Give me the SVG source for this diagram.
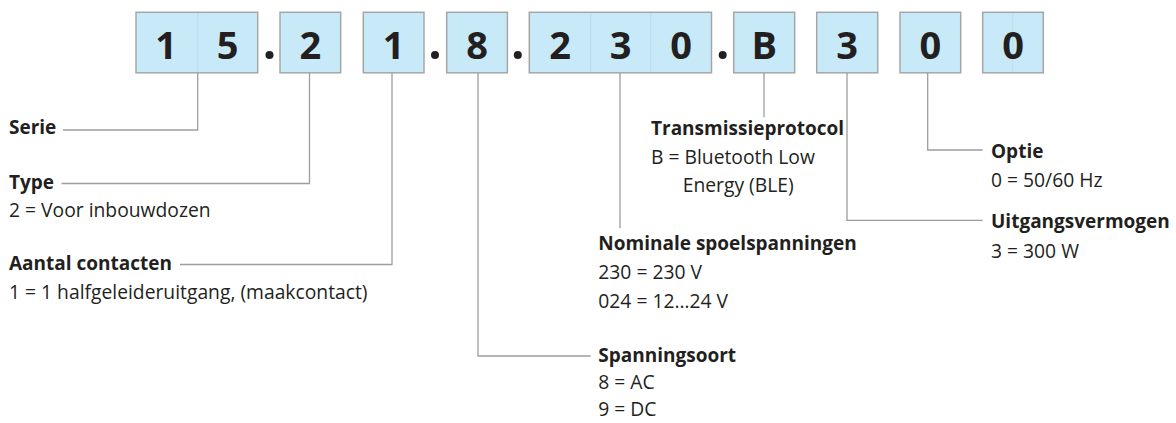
<svg xmlns="http://www.w3.org/2000/svg" width="1176" height="423" viewBox="0 0 1176 423">
<style>
.box{fill:#c7e9f8;stroke:#a6a6a6;stroke-width:1.5}
.div{stroke:#bdd6e2;stroke-width:0.7}
.dig{font-family:"Open Sans","Liberation Sans",sans-serif;font-weight:700;font-size:38px;fill:#231f20;text-anchor:middle}
.dot{fill:#231f20}
.con{fill:none;stroke:#9d9d9d;stroke-width:1.3}
.h{font-family:"Open Sans","Liberation Sans",sans-serif;font-weight:700;font-size:19px;fill:#231f20}
.t{font-family:"Open Sans","Liberation Sans",sans-serif;font-size:19.3px;fill:#231f20}
</style>
<rect width="1176" height="423" fill="#ffffff"/>
<g id="code">
<g id="box-15">
<rect class="box" x="136" y="12.3" width="121.7" height="60.5"/>
<line class="div" x1="197.7" y1="13" x2="197.7" y2="72"/>
<text class="dig" x="166" y="59">1</text>
<text class="dig" x="227.5" y="59">5</text>
</g>
<circle class="dot" cx="269.5" cy="55" r="4"/>
<g id="box-2">
<rect class="box" x="280" y="12.3" width="60.7" height="60.5"/>
<text class="dig" x="310.3" y="59">2</text>
</g>
<g id="box-1">
<rect class="box" x="363.3" y="12.3" width="60.7" height="60.5"/>
<text class="dig" x="393.7" y="59">1</text>
</g>
<circle class="dot" cx="435" cy="55" r="4"/>
<g id="box-8">
<rect class="box" x="446.7" y="12.3" width="60.7" height="60.5"/>
<text class="dig" x="477" y="59">8</text>
</g>
<circle class="dot" cx="517.8" cy="55" r="4"/>
<g id="box-230">
<rect class="box" x="529.3" y="12.3" width="182.2" height="60.5"/>
<line class="div" x1="590.7" y1="13" x2="590.7" y2="72"/>
<line class="div" x1="650.7" y1="13" x2="650.7" y2="72"/>
<text class="dig" x="560" y="59">2</text>
<text class="dig" x="620.5" y="59">3</text>
<text class="dig" x="681" y="59">0</text>
</g>
<circle class="dot" cx="722.7" cy="55" r="4"/>
<g id="box-B">
<rect class="box" x="733.7" y="12.3" width="61" height="60.5"/>
<text class="dig" x="764.2" y="59">B</text>
</g>
<g id="box-3">
<rect class="box" x="816.7" y="12.3" width="61" height="60.5"/>
<text class="dig" x="847.2" y="59">3</text>
</g>
<g id="box-0a">
<rect class="box" x="900" y="12.3" width="60.7" height="60.5"/>
<text class="dig" x="930.3" y="59">0</text>
</g>
<g id="box-0b">
<rect class="box" x="982.7" y="12.3" width="60.6" height="60.5"/>
<line class="div" x1="1012.7" y1="13" x2="1012.7" y2="72"/>
<text class="dig" x="1013" y="59">0</text>
</g>
</g>
<g id="connectors">
<polyline class="con" points="63,130 197.7,130 197.7,73"/>
<polyline class="con" points="61.5,183.5 309.5,183.5 309.5,73"/>
<polyline class="con" points="180,264.5 392,264.5 392,73"/>
<polyline class="con" points="590.7,356 478,356 478,73"/>
<line class="con" x1="620" y1="73" x2="620" y2="228.3"/>
<line class="con" x1="764" y1="73" x2="764" y2="117.3"/>
<polyline class="con" points="982.7,220.3 847,220.3 847,73"/>
<polyline class="con" points="982.7,150 927.7,150 927.7,73"/>
</g>
<g id="serie"><text class="h" x="9" y="134.3">Serie</text></g>
<g id="type">
<text class="h" x="9" y="188.5">Type</text>
<text class="t" x="9" y="217">2 = Voor inbouwdozen</text>
</g>
<g id="aantal">
<text class="h" x="9" y="270">Aantal contacten</text>
<text class="t" x="9" y="298.5">1 = 1 halfgeleideruitgang, (maakcontact)</text>
</g>
<g id="transmissie">
<text class="h" x="651" y="135">Transmissieprotocol</text>
<text class="t" x="651" y="163.5">B = Bluetooth Low</text>
<text class="t" x="682.7" y="192">Energy (BLE)</text>
</g>
<g id="nominale">
<text class="h" x="598.3" y="250">Nominale spoelspanningen</text>
<text class="t" x="598.3" y="279">230 = 230 V</text>
<text class="t" x="598.3" y="307.7">024 = 12…24 V</text>
</g>
<g id="spanningsoort">
<text class="h" x="598.3" y="361.5">Spanningsoort</text>
<text class="t" x="598.3" y="389">8 = AC</text>
<text class="t" x="598.3" y="416">9 = DC</text>
</g>
<g id="optie">
<text class="h" x="991" y="158.3">Optie</text>
<text class="t" x="991" y="186.7">0 = 50/60 Hz</text>
</g>
<g id="uitgang">
<text class="h" x="991" y="228.3">Uitgangsvermogen</text>
<text class="t" x="991" y="257.5">3 = 300 W</text>
</g>
</svg>
